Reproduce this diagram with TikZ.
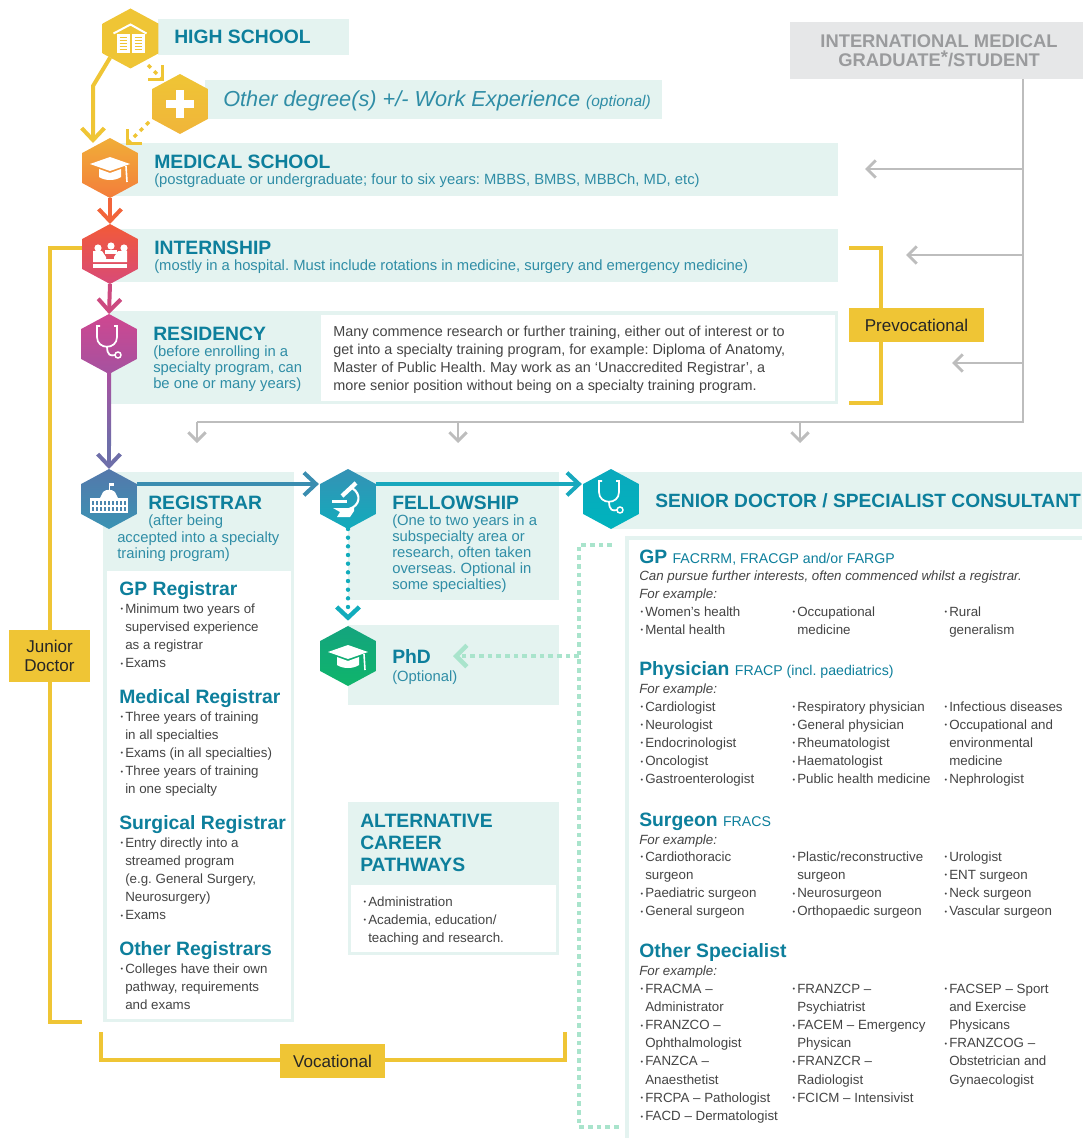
\documentclass[tikz,border=0pt]{standalone}
\usepackage{fontspec}
\setmainfont{Liberation Sans}
\usetikzlibrary{arrows.meta,shapes.geometric}
\definecolor{mintbg}{HTML}{E4F3F0}
\definecolor{mintdot}{HTML}{A9E4CC}
\definecolor{tealhead}{HTML}{0D7F9C}
\definecolor{tealsub}{HTML}{2F8DA6}
\definecolor{bodygrey}{HTML}{444444}
\definecolor{goldline}{HTML}{EFC535}
\definecolor{greyline}{HTML}{BDBDBD}
\definecolor{greybox}{HTML}{E6E7E8}
\definecolor{greytext}{HTML}{9A9B9D}
\definecolor{othbot}{HTML}{F0B53A}
\definecolor{medtop}{HTML}{F1AE38}
\definecolor{medbot}{HTML}{F37D3A}
\definecolor{inttop}{HTML}{F25A38}
\definecolor{intbot}{HTML}{D84A78}
\definecolor{restop}{HTML}{CF4790}
\definecolor{resbot}{HTML}{A452A0}
\definecolor{regtop}{HTML}{5478AB}
\definecolor{regbot}{HTML}{3A93B3}
\definecolor{feltop}{HTML}{3592B5}
\definecolor{felbot}{HTML}{11ACBC}
\definecolor{sentop}{HTML}{0AA9BD}
\definecolor{senbot}{HTML}{00B3BD}
\definecolor{phdtop}{HTML}{14A47E}
\definecolor{phdbot}{HTML}{0FB56B}
\definecolor{medarrow}{HTML}{F2643A}
\definecolor{intarrow}{HTML}{CC4A80}
\definecolor{resarrowa}{HTML}{AB50A0}
\definecolor{resarrowb}{HTML}{6E6EA9}
\definecolor{regarrow}{HTML}{3A8DB0}
\definecolor{felarrow}{HTML}{18A8BD}
\definecolor{regwindow}{HTML}{4A85AE}
\newcommand{\headfont}{\fontsize{14.5}{16.5}\selectfont\bfseries}
\newcommand{\subfont}{\fontsize{10.6}{12}\selectfont\mdseries}
\newcommand{\blt}{\llap{\raisebox{.2ex}{\scalebox{.55}{\textbullet}}\kern1.6pt}}
\newcommand{\stack}[1]{\begin{tabular}[t]{@{}l@{}}#1\end{tabular}}
\frenchspacing
\tikzset{
  hexnode/.style 2 args={regular polygon,regular polygon sides=6,shape border rotate=30,
    minimum size=45pt,inner sep=0pt,outer sep=0pt,xscale=1.07,yscale=-1,transform shape,top color=#1,bottom color=#2},
  headtext/.style={anchor=base west,inner sep=0pt,text=tealhead,font=\headfont},
  subtext/.style={anchor=base west,inner sep=0pt,text=tealsub,font=\fontsize{11.1}{12}\selectfont},
  bodytext/.style={anchor=base west,inner sep=0pt,text=bodygrey,font=\fontsize{10}{13.65}\selectfont},
  italtext/.style={bodytext,font=\fontsize{10}{13.65}\selectfont\itshape},
  notetext/.style={anchor=base west,inner sep=0pt,text=bodygrey,font=\fontsize{10.8}{13.7}\selectfont},
  goldlabel/.style={fill=goldline,inner sep=0pt,align=center,text=black!85,font=\fontsize{12.8}{14.5}\selectfont},
  bracketline/.style={draw=goldline,line width=2.3pt},
  flowarrow/.style={line width=3pt,-{Straight Barb[length=9pt,width=17pt]}},
  greyarrow/.style={draw=greyline,line width=2.2pt,-{Straight Barb[length=6.5pt,width=13pt]}},
  dotarrow/.style={line width=2.6pt,-{Straight Barb[length=7.5pt,width=15pt]}},
  gradcap/.pic={
    \fill[white] (-20,-4) -- (0,-11) -- (20,-4) -- (0,3) -- cycle;
    \fill[white] (-11,1) -- (0,5) -- (11,1) -- (11,9) .. controls (5,13) and (-5,13) .. (-11,9) -- cycle;
    \draw[white,line width=1.2pt] (16,-2) -- (17,14);
  },
  stethoscope/.pic={
    \draw[white,line width=1.3pt] (-9,-18) -- (-12,-18) -- (-12,-7) .. controls (-12,6) and (8,6) .. (8,-7) -- (8,-18) -- (5,-18);
    \draw[white,line width=1.3pt] (-2,2) .. controls (-2,12) and (2,12) .. (6,11);
    \draw[white,line width=1.1pt] (9,11) circle (3);
  },
}
\begin{document}
\begin{tikzpicture}[x=0.75pt,y=0.75pt,yscale=-1,xscale=1]
\useasboundingbox (0,0) rectangle (1082,1138);

% mint panels
\fill[mintbg] (158,19) rectangle (349,55);
\fill[mintbg] (205,80) rectangle (662,119);
\fill[mintbg] (110,143) rectangle (838,196);
\fill[mintbg] (110,229) rectangle (838,282);
\fill[mintbg] (110,311) rectangle (838,404);
\fill[white] (321,315) rectangle (835,401);
\fill[mintbg] (103,472) rectangle (294,1022);
\fill[white] (107,571) rectangle (291,1019);
\fill[mintbg] (348,472) rectangle (559,600);
\fill[mintbg] (348,625) rectangle (559,705);
\fill[mintbg] (348,802) rectangle (559,955);
\fill[white] (351,885) rectangle (556,952);
\fill[mintbg] (611,472) rectangle (1082,529);
\fill[mintbg] (625,536) rectangle (1082,1138);
\fill[white] (629,540) rectangle (1082,1138);

% hexagons
\node[hexnode={goldline}{goldline}] (high) at (130.5,38.5) {};
\node[hexnode={goldline}{othbot}] (other) at (180,104) {};
\node[hexnode={medtop}{medbot}] (medical) at (110,168) {};
\node[hexnode={inttop}{intbot}] (internship) at (110,254) {};
\node[hexnode={restop}{resbot}] (residency) at (109,344) {};
\node[hexnode={regtop}{regbot}] (registrar) at (109,499) {};
\node[hexnode={feltop}{felbot}] (fellowship) at (348,499) {};
\node[hexnode={sentop}{senbot}] (senior) at (611,499) {};
\node[hexnode={phdtop}{phdbot}] (phd) at (348,656) {};

% international box and grey rails
\node[fill=greybox,minimum width=298*.75pt,minimum height=57*.75pt,inner sep=0pt,align=center,text=greytext,
  font=\fontsize{13.76}{14.3}\selectfont\bfseries] (img) at (939,50.5) {INTERNATIONAL MEDICAL\\GRADUATE\raisebox{.25ex}{*}/STUDENT};
\coordinate (trunk) at (1023,422);
\coordinate (medin) at (865,169);
\coordinate (intin) at (906,255);
\coordinate (resin) at (952,363);
\coordinate (downa) at (197,443);
\coordinate (downb) at (458,443);
\coordinate (downc) at (800,443);
\draw[draw=greyline,line width=2.2pt] (img.south -| trunk) -- (trunk) -- (downa |- trunk);
\draw[greyarrow] (trunk |- medin) -- (medin);
\draw[greyarrow] (trunk |- intin) -- (intin);
\draw[greyarrow] (trunk |- resin) -- (resin);
\draw[greyarrow] (downa |- trunk) -- (downa);
\draw[greyarrow] (downb |- trunk) -- (downb);
\draw[greyarrow] (downc |- trunk) -- (downc);

% yellow brackets
\coordinate (pretop) at (881,248);
\coordinate (prebot) at (881,403);
\coordinate (juniortop) at (50,248);
\coordinate (juniorbot) at (50,1022);
\coordinate (vocleft) at (101,1060);
\coordinate (vocright) at (565,1060);
\draw[bracketline] (849,248) -- (pretop) -- (prebot) -- (849,403);
\draw[bracketline] (internship.west |- juniortop) -- (juniortop) -- (juniorbot) -- ++(32,0);
\draw[bracketline] (101,1032) -- (vocleft) -- (vocright) -- (565,1032);
\node[goldlabel,minimum width=135*.75pt,minimum height=34*.75pt] (prevoc) at (916.5,325) {Prevocational};
\node[goldlabel,minimum width=81*.75pt,minimum height=52*.75pt] (junior) at (49.5,656) {Junior\\Doctor};
\node[goldlabel,minimum width=105*.75pt,minimum height=34*.75pt] (vocational) at (332.5,1061) {Vocational};

% flow connectors
\coordinate (highbend) at (93,86);
\coordinate (medfoot) at (93,143);
\coordinate (hightail) at (148,65);
\coordinate (otherin) at (164,81);
\coordinate (othertail) at (149,122);
\coordinate (medin2) at (126,145);
\coordinate (toprail) at (0,484);
\coordinate (tipstart) at (109,440);
\coordinate (shadeleft) at (107,372);
\coordinate (shaderight) at (111,445);
\coordinate (mintturn) at (579,545);
\coordinate (mintbot) at (579,1127);
\coordinate (phdin) at (453,656);
\draw[flowarrow,draw=goldline] (high.south west) -- (highbend) -- (medfoot);
\draw[dotarrow,draw=goldline,dash pattern=on 3pt off 3.5pt] (hightail) -- (otherin);
\draw[dotarrow,draw=goldline,dash pattern=on 3pt off 3.5pt] (othertail) -- (medin2);
\draw[flowarrow,draw=medarrow] (medical.south) -- (internship.north);
\draw[flowarrow,draw=intarrow] (internship.south) -- (residency.north);
\shade[top color=resarrowa,bottom color=resarrowb] (shadeleft) rectangle (shaderight);
\draw[flowarrow,draw=resarrowb] (tipstart) -- (registrar.north);
\draw[flowarrow,draw=regarrow,shorten >=1pt] (registrar.east |- toprail) -- (fellowship.west |- toprail);
\draw[flowarrow,draw=felarrow,shorten >=1pt] (fellowship.east |- toprail) -- (senior.west |- toprail);
\draw[dotarrow,draw=felbot,line width=3.3pt,line cap=round,dash pattern=on 0pt off 6.5pt,shorten >=4pt,-{Straight Barb[length=8pt,width=17pt]}] (fellowship.south) -- (phd.north);
\draw[draw=mintdot,line width=3.4pt,dash pattern=on 3.4pt off 3.1pt] (612,545) -- (mintturn) -- (mintbot) -- (620,1127);
\draw[dotarrow,draw=mintdot,line width=3.4pt,dash pattern=on 3.4pt off 3.1pt,-{Straight Barb[length=8pt,width=16pt]}] (mintturn |- phdin) -- (phdin);

% icons
\path (medical) pic[transform shape] {gradcap};
\path (phd) pic[transform shape] {gradcap};
\path (residency) pic[transform shape] {stethoscope};
\path (senior) pic[transform shape] {stethoscope};
\begin{scope}[shift={(high)}]
  \draw[white,line width=1.5pt] (-17,-5) -- (0,-14) -- (16,-5);
  \fill[white] (-14,-4) rectangle (-1,15);
  \fill[white] (1,-4) rectangle (14,15);
  \foreach \y in {-1,2,5,8,11} {
    \draw[goldline,line width=.6pt] (-11,\y) -- (-4,\y) (4,\y) -- (11,\y);
  }
\end{scope}
\begin{scope}[shift={(other)}]
  \fill[white] (-14,-4) rectangle (14,4);
  \fill[white] (-4,-14) rectangle (4,14);
\end{scope}
\begin{scope}[shift={(internship)}]
  \fill[white] (-12,-6) circle (3.6) (1,-8) circle (3.6) (14,-6) circle (3.6);
  \fill[white] (-17,-3) -- (-8,-3) -- (-4,3) -- (-4,5) -- (4,5) -- (4,3) -- (8,-3) -- (17,-3) -- (17,8) -- (-17,8) -- cycle;
  \fill[white] (-5,-4) rectangle (7,0);
  \fill[white] (-17,10) rectangle (17,14);
\end{scope}
\begin{scope}[shift={(registrar)}]
  \fill[white] (-19,-1) rectangle (19,14);
  \fill[white] (-9,-1) -- (-6,-7) .. controls (-3,-10) and (3,-10) .. (6,-7) -- (9,-1) -- cycle;
  \draw[white,line width=.7pt] (0,-9) -- (0,-16);
  \fill[white] (0,-16) rectangle (5,-13);
  \foreach \x in {-16,-12,-8,-4,0,4,8,12,16} {
    \fill[regwindow] (\x-1,2) rectangle (\x+1,6);
    \fill[regwindow] (\x-1,8) rectangle (\x+1,12);
  }
\end{scope}
\begin{scope}[shift={(fellowship)}]
  \draw[white,line width=3.2pt] (8,-16) -- (-6,-3);
  \draw[white,line width=1.6pt] (4,-11) .. controls (14,-5) and (12,7) .. (1,10);
  \fill[white] (-16,1) rectangle (-1,4);
  \fill[white] (-15,9) -- (6,9) -- (6,12) -- (2,18) -- (-11,18) -- (-8,13) -- cycle;
\end{scope}

% step texts
\node[headtext] (hightext) at (174,44) {HIGH SCHOOL};
\node[anchor=base west,inner sep=0pt,text=tealsub,font=\fontsize{16.3}{18}\selectfont\itshape] (othertext) at (223,107) {Other degree(s) +/- Work Experience {\fontsize{11.6}{12}\selectfont(optional)}};
\node[headtext] (medtext) at (154,168) {MEDICAL SCHOOL};
\node[subtext] (medsub) at (154,184) {(postgraduate or undergraduate; four to six years: MBBS, BMBS, MBBCh, MD, etc)};
\node[headtext] (inttext) at (154,254) {INTERNSHIP};
\node[subtext] (intsub) at (154,270) {(mostly in a hospital. Must include rotations in medicine, surgery and emergency medicine)};
\node[headtext] (restext) at (153,340) {RESIDENCY};
\node[subtext] (ressub) at (153,356) {\stack{(before enrolling in a\\specialty program, can\\be one or many years)}};
\node[notetext] (resnote) at (333,336) {\stack{Many commence research or further training, either out of interest or to\\get into a specialty training program, for example: Diploma of Anatomy,\\Master of Public Health. May work as an `Unaccredited Registrar', a\\more senior position without being on a specialty training program.}};
\node[headtext] (regtext) at (148,509) {REGISTRAR};
\node[subtext] (regsuba) at (148,525) {(after being};
\node[subtext] (regsubb) at (117,542) {\stack{accepted into a specialty\\training program)}};
\node[headtext] (feltext) at (392,509) {FELLOWSHIP};
\node[subtext] (felsub) at (392,525) {\stack{(One to two years in a\\subspecialty area or\\research, often taken\\overseas. Optional in\\some specialties)}};
\node[headtext] (phdtext) at (392,663) {PhD};
\node[subtext] (phdsub) at (392,681) {(Optional)};
\node[headtext,font=\fontsize{14.4}{16.5}\selectfont\bfseries] (sentext) at (655,507) {SENIOR DOCTOR / SPECIALIST CONSULTANT};

% registrar lists
\node[headtext] (gpreg) at (119,595) {GP Registrar};
\node[bodytext] (gpreglist) at (125,613) {\stack{\blt Minimum two years of\\supervised experience\\as a registrar\\\blt Exams}};
\node[headtext] (medreg) at (119,703) {Medical Registrar};
\node[bodytext] (medreglist) at (125,721) {\stack{\blt Three years of training\\in all specialties\\\blt Exams (in all specialties)\\\blt Three years of training\\in one specialty}};
\node[headtext] (surgreg) at (119,829) {Surgical Registrar};
\node[bodytext] (surgreglist) at (125,847) {\stack{\blt Entry directly into a\\streamed program\\(e.g. General Surgery,\\Neurosurgery)\\\blt Exams}};
\node[headtext] (othreg) at (119,955) {Other Registrars};
\node[bodytext] (othreglist) at (125,973) {\stack{\blt Colleges have their own\\pathway, requirements\\and exams}};

% alternative pathways
\node[headtext] (alttext) at (360,827) {\stack{ALTERNATIVE\\CAREER\\PATHWAYS}};
\node[bodytext] (altlist) at (368,906) {\stack{\blt Administration\\\blt Academia, education/\\teaching and research.}};

% specialist lists
\node[headtext] (gphead) at (639,563) {GP {\subfont FACRRM, FRACGP and/or FARGP}};
\node[italtext] (gpnote) at (639,580) {Can pursue further interests, often commenced whilst a registrar.};
\node[italtext] (gpfor) at (639,598) {For example:};
\node[bodytext] (gpa) at (645,616) {\stack{\blt Women's health\\\blt Mental health}};
\node[bodytext] (gpb) at (797,616) {\stack{\blt Occupational\\medicine}};
\node[bodytext] (gpc) at (949,616) {\stack{\blt Rural\\generalism}};
\node[headtext] (phyhead) at (639,675) {Physician {\subfont FRACP (incl. paediatrics)}};
\node[italtext] (phyfor) at (639,693) {For example:};
\node[bodytext] (phya) at (645,711) {\stack{\blt Cardiologist\\\blt Neurologist\\\blt Endocrinologist\\\blt Oncologist\\\blt Gastroenterologist}};
\node[bodytext] (phyb) at (797,711) {\stack{\blt Respiratory physician\\\blt General physician\\\blt Rheumatologist\\\blt Haematologist\\\blt Public health medicine}};
\node[bodytext] (phyc) at (949,711) {\stack{\blt Infectious diseases\\\blt Occupational and\\environmental\\medicine\\\blt Nephrologist}};
\node[headtext] (surhead) at (639,826) {Surgeon {\subfont FRACS}};
\node[italtext] (surfor) at (639,844) {For example:};
\node[bodytext] (sura) at (645,861) {\stack{\blt Cardiothoracic\\surgeon\\\blt Paediatric surgeon\\\blt General surgeon}};
\node[bodytext] (surb) at (797,861) {\stack{\blt Plastic/reconstructive\\surgeon\\\blt Neurosurgeon\\\blt Orthopaedic surgeon}};
\node[bodytext] (surc) at (949,861) {\stack{\blt Urologist\\\blt ENT surgeon\\\blt Neck surgeon\\\blt Vascular surgeon}};
\node[headtext] (spehead) at (639,957) {Other Specialist};
\node[italtext] (spefor) at (639,975) {For example:};
\node[bodytext] (spea) at (645,993) {\stack{\blt FRACMA --\\Administrator\\\blt FRANZCO --\\Ophthalmologist\\\blt FANZCA --\\Anaesthetist\\\blt FRCPA -- Pathologist\\\blt FACD -- Dermatologist}};
\node[bodytext] (speb) at (797,993) {\stack{\blt FRANZCP --\\Psychiatrist\\\blt FACEM -- Emergency\\Physican\\\blt FRANZCR --\\Radiologist\\\blt FCICM -- Intensivist}};
\node[bodytext] (spec) at (949,993) {\stack{\blt FACSEP -- Sport\\and Exercise\\Physicans\\\blt FRANZCOG --\\Obstetrician and\\Gynaecologist}};

\end{tikzpicture}
\end{document}
